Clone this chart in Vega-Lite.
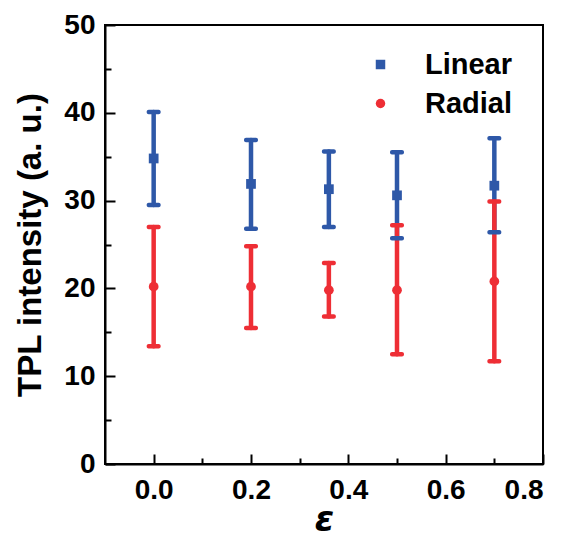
{
  "$schema": "https://vega.github.io/schema/vega-lite/v6.json",
  "width": 438,
  "height": 439,
  "autosize": {"type": "none"},
  "padding": {"left": 105, "top": 25, "right": 26, "bottom": 71},
  "background": "white",
  "config": {
    "view": {"stroke": "black", "strokeWidth": 2},
    "font": "Liberation Sans",
    "axis": {
      "grid": false,
      "domainColor": "black",
      "domainWidth": 2,
      "tickColor": "black",
      "tickWidth": 2,
      "labelColor": "black",
      "labelFont": "Liberation Sans",
      "labelFontWeight": "bold",
      "labelFontSize": 27,
      "titleColor": "black",
      "titleFont": "Liberation Sans",
      "titleFontWeight": "bold"
    }
  },
  "data": {
    "values": [
      {"eps": 0.0, "series": "Linear", "mean": 34.8, "low": 29.5, "high": 40.1},
      {"eps": 0.2, "series": "Linear", "mean": 31.9, "low": 26.8, "high": 36.9},
      {"eps": 0.36, "series": "Linear", "mean": 31.3, "low": 27.0, "high": 35.6},
      {"eps": 0.5, "series": "Linear", "mean": 30.6, "low": 25.7, "high": 35.5},
      {"eps": 0.7, "series": "Linear", "mean": 31.7, "low": 26.4, "high": 37.1},
      {"eps": 0.0, "series": "Radial", "mean": 20.2, "low": 13.4, "high": 27.0},
      {"eps": 0.2, "series": "Radial", "mean": 20.2, "low": 15.5, "high": 24.8},
      {"eps": 0.36, "series": "Radial", "mean": 19.8, "low": 16.8, "high": 22.9},
      {"eps": 0.5, "series": "Radial", "mean": 19.8, "low": 12.5, "high": 27.2},
      {"eps": 0.7, "series": "Radial", "mean": 20.8, "low": 11.7, "high": 29.9}
    ]
  },
  "resolve": {"axis": {"x": "independent", "y": "independent"}},
  "layer": [
    {
      "mark": {"type": "rule", "strokeWidth": 4.5, "strokeCap": "round", "opacity": 1},
      "encoding": {
        "x": {
          "field": "eps", "type": "quantitative",
          "scale": {"domain": [-0.1, 0.8], "nice": false, "zero": false},
          "axis": {
            "orient": "bottom",
            "values": [0, 0.2, 0.4, 0.6, 0.8],
            "format": ".1f",
            "tickSize": -10,
            "labelPadding": 22,
            "labelFontSize": 28,
            "title": "ε",
            "titleFontSize": 35,
            "titleFontStyle": "italic",
            "titleFont": "DejaVu Sans",
            "titlePadding": -2
          }
        },
        "y": {
          "field": "low", "type": "quantitative",
          "scale": {"domain": [0, 50], "nice": false},
          "axis": {
            "orient": "left",
            "values": [0, 10, 20, 30, 40, 50],
            "tickSize": -10,
            "labelPadding": 20,
            "labelFontSize": 28,
            "title": "TPL intensity (a. u.)",
            "titleFontSize": 33,
            "titlePadding": 16
          }
        },
        "y2": {"field": "high"},
        "color": {
          "field": "series", "type": "nominal",
          "scale": {"domain": ["Linear", "Radial"], "range": ["#2E58A8", "#EE2E35"]}
        }
      }
    },
    {
      "mark": {"type": "tick", "orient": "horizontal", "size": 14, "thickness": 4.5, "cornerRadius": 2, "opacity": 1},
      "encoding": {
        "x": {"field": "eps", "type": "quantitative", "axis": null},
        "y": {"field": "low", "type": "quantitative", "axis": null},
        "color": {"field": "series", "type": "nominal"}
      }
    },
    {
      "mark": {"type": "tick", "orient": "horizontal", "size": 14, "thickness": 4.5, "cornerRadius": 2, "opacity": 1},
      "encoding": {
        "x": {"field": "eps", "type": "quantitative", "axis": null},
        "y": {"field": "high", "type": "quantitative", "axis": null},
        "color": {"field": "series", "type": "nominal"}
      }
    },
    {
      "mark": {"type": "point", "filled": true, "opacity": 1, "size": 95},
      "encoding": {
        "x": {
          "field": "eps", "type": "quantitative",
          "axis": {
            "orient": "bottom",
            "values": [0.1, 0.3, 0.5, 0.7],
            "labels": false,
            "domain": false,
            "tickSize": -6,
            "title": null
          }
        },
        "y": {
          "field": "mean", "type": "quantitative",
          "axis": {
            "orient": "left",
            "values": [5, 15, 25, 35, 45],
            "labels": false,
            "domain": false,
            "tickSize": -6,
            "title": null
          }
        },
        "color": {
          "field": "series", "type": "nominal",
          "legend": {
            "title": null,
            "orient": "none",
            "legendX": 261,
            "legendY": 25,
            "padding": 0,
            "labelFont": "Liberation Sans",
            "labelFontWeight": "bold",
            "labelFontSize": 29,
            "labelColor": "black",
            "labelOffset": 30,
            "rowPadding": 9,
            "symbolSize": 90,
            "symbolOpacity": 1,
            "symbolStrokeWidth": 0
          }
        },
        "shape": {
          "field": "series", "type": "nominal",
          "scale": {"domain": ["Linear", "Radial"], "range": ["square", "circle"]}
        }
      }
    }
  ]
}
